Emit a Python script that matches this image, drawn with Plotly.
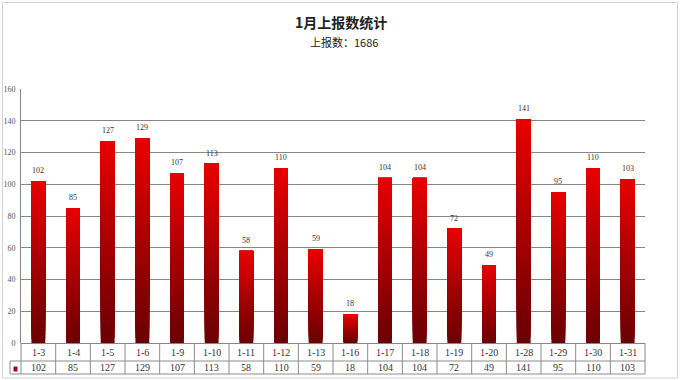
import plotly.graph_objects as go

categories = ["1-3", "1-4", "1-5", "1-6", "1-9", "1-10", "1-11", "1-12", "1-13",
              "1-16", "1-17", "1-18", "1-19", "1-20", "1-28", "1-29", "1-30", "1-31"]
values = [102, 85, 127, 129, 107, 113, 58, 110, 59, 18, 104, 104, 72, 49, 141, 95, 110, 103]
title_text = "1月上报数统计"
subtitle_text = "上报数：1686"

W, H = 683, 380
L, R, T, B = 21, 38, 89, 37
PW, PH = W - L - R, H - T - B

def px(X):
    return (X - L) / PW

def py(Y):
    return (H - B - Y) / PH

fig = go.Figure()

# gradient bars: overlaid bars, each starting higher, dark at bottom -> bright at top
N = 40
bottom = (105, 0, 2)
top = (232, 0, 0)
for k in range(N):
    t = k / (N - 1)
    c = tuple(round(bottom[i] + (top[i] - bottom[i]) * t) for i in range(3))
    fig.add_trace(go.Bar(
        x=categories,
        y=[v * (1 - k / N) for v in values],
        base=[v * k / N for v in values],
        marker=dict(color="rgb(%d,%d,%d)" % c, line=dict(width=0)),
        width=0.4,
        showlegend=False,
        hoverinfo="skip",
    ))

shapes = []
line_col = "#8c8c8c"
n = len(categories)
# table horizontal lines
for Y, x0 in [(361, 10), (374, 10)]:
    shapes.append(dict(type="line", xref="paper", yref="paper",
                       x0=px(x0), x1=1, y0=py(Y), y1=py(Y),
                       line=dict(color=line_col, width=1)))
# table vertical lines
for k in range(n + 1):
    shapes.append(dict(type="line", xref="paper", yref="paper",
                       x0=k / n, x1=k / n, y0=py(343), y1=py(374),
                       line=dict(color=line_col, width=1)))
shapes.append(dict(type="line", xref="paper", yref="paper",
                   x0=px(10), x1=px(10), y0=py(361), y1=py(374),
                   line=dict(color=line_col, width=1)))
# legend marker
shapes.append(dict(type="rect", xref="paper", yref="paper",
                   x0=px(13.5), x1=px(17.5), y0=py(371.5), y1=py(366.5),
                   fillcolor="#b00010", line=dict(width=0)))
# outer border
shapes.append(dict(type="rect", xref="paper", yref="paper",
                   x0=px(2.5), x1=px(677.5), y0=py(378), y1=py(2.5),
                   line=dict(color="#d4d4d4", width=1), layer="below"))

annotations = []
for c, v in zip(categories, values):
    # value label above bar
    annotations.append(dict(x=c, xref="x", y=v, yref="y", text=str(v),
                            showarrow=False, xanchor="center", yanchor="bottom", yshift=4,
                            font=dict(family="Liberation Serif", size=8, color="#333333")))
    annotations.append(dict(x=c, xref="x", y=py(352.5), yref="paper", text=c,
                            showarrow=False, xanchor="center", yanchor="middle",
                            font=dict(family="Liberation Serif", size=10, color="#333333")))
    annotations.append(dict(x=c, xref="x", y=py(367.5), yref="paper", text=str(v),
                            showarrow=False, xanchor="center", yanchor="middle",
                            font=dict(family="Liberation Serif", size=10, color="#333333")))
annotations.append(dict(x=px(341), y=py(22), xref="paper", yref="paper", text="<b>" + title_text + "</b>",
                        showarrow=False, xanchor="center", yanchor="middle",
                        font=dict(family="Noto Sans CJK SC", size=14, color="#222222")))
annotations.append(dict(x=px(344), y=py(42), xref="paper", yref="paper", text=subtitle_text,
                        showarrow=False, xanchor="center", yanchor="middle",
                        font=dict(family="Noto Sans CJK SC", size=11, color="#222222")))

fig.update_layout(
    width=W, height=H,
    margin=dict(l=L, r=R, t=T, b=B, autoexpand=False),
    paper_bgcolor="white", plot_bgcolor="white",
    barmode="overlay",
    shapes=shapes, annotations=annotations,
    xaxis=dict(type="category", range=[-0.5, n - 0.5], showticklabels=False,
               showgrid=False, zeroline=False, showline=False, ticks="", automargin=False),
    yaxis=dict(range=[0, 160], dtick=20, showgrid=True, gridcolor="#868686", gridwidth=1,
               showline=True, linecolor="#868686", linewidth=1, zeroline=True,
               zerolinecolor="#868686", zerolinewidth=1, ticks="", automargin=False,
               tickfont=dict(family="Liberation Serif", size=8, color="#555555"),
               ticklabelstandoff=3),
    font=dict(family="Liberation Serif"),
)

fig.write_html("out.html")
